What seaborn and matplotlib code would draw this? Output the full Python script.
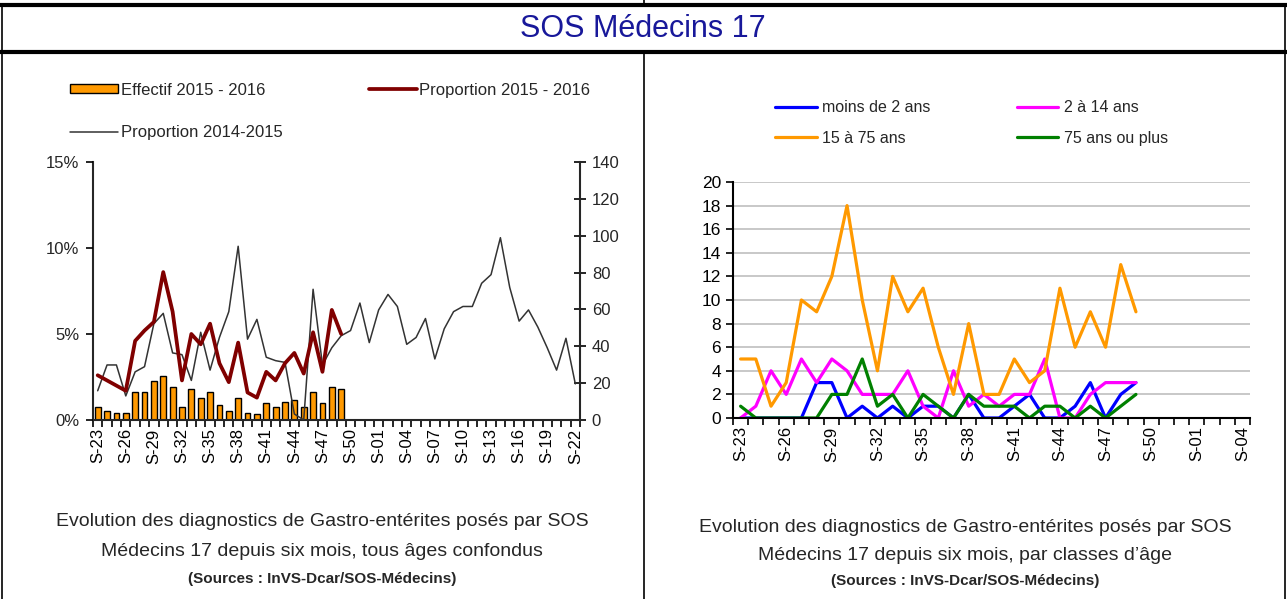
import numpy as np
import pandas as pd
import seaborn as sns
import matplotlib.pyplot as plt
from matplotlib.lines import Line2D
from matplotlib.patches import Patch
from matplotlib.ticker import PercentFormatter

# weeks shown on the left chart (one season)
weeks_left = [
    "S-23", "S-24", "S-25", "S-26", "S-27", "S-28", "S-29", "S-30", "S-31", "S-32",
    "S-33", "S-34", "S-35", "S-36", "S-37", "S-38", "S-39", "S-40", "S-41", "S-42",
    "S-43", "S-44", "S-45", "S-46", "S-47", "S-48", "S-49", "S-50", "S-51", "S-52",
    "S-01", "S-02", "S-03", "S-04", "S-05", "S-06", "S-07", "S-08", "S-09", "S-10",
    "S-11", "S-12", "S-13", "S-14", "S-15", "S-16", "S-17", "S-18", "S-19", "S-20",
    "S-21", "S-22",
]
# weeks shown on the right chart
weeks_right = weeks_left[:34]

effectif_1516 = [7, 5, 4, 4, 15, 15, 21, 24, 18, 7, 17, 12, 15, 8, 5, 12, 4, 3, 9, 7,
                 10, 11, 7, 15, 9, 18, 17]
prop_1516 = [2.6, 2.3, 2.0, 1.7, 4.6, 5.2, 5.7, 8.6, 6.3, 2.3, 5.0, 4.4, 5.6, 3.3, 2.2,
             4.5, 1.6, 1.3, 2.8, 2.3, 3.3, 3.9, 2.7, 5.1, 2.8, 6.4, 5.0]
prop_1415 = [1.7, 3.2, 3.2, 1.4, 2.8, 3.1, 5.6, 6.2, 3.9, 3.8, 2.3, 5.1, 2.9, 4.8, 6.3,
             10.1, 4.7, 5.85, 3.65, 3.45, 3.35, 0.35, 0.0, 7.6, 3.2, 4.2, 4.9, 5.2, 6.8,
             4.5, 6.4, 7.3, 6.6, 4.4, 4.8, 5.9, 3.55, 5.3, 6.3, 6.6, 6.6, 7.95, 8.45,
             10.6, 7.7, 5.75, 6.4, 5.4, 4.2, 2.9, 4.75, 2.1]

age_moins2 = [0, 0, 0, 0, 0, 3, 3, 0, 1, 0, 1, 0, 1, 1, 0, 2, 0, 0, 1, 2, 0, 0, 1, 3, 0, 2, 3]
age_2_14 = [0, 1, 4, 2, 5, 3, 5, 4, 2, 2, 2, 4, 1, 0, 4, 1, 2, 1, 2, 2, 5, 0, 0, 2, 3, 3, 3]
age_15_75 = [5, 5, 1, 3, 10, 9, 12, 18, 10, 4, 12, 9, 11, 6, 2, 8, 2, 2, 5, 3, 4, 11, 6, 9, 6, 13, 9]
age_75plus = [1, 0, 0, 0, 0, 0, 2, 2, 5, 1, 2, 0, 2, 1, 0, 2, 1, 1, 1, 0, 1, 1, 0, 1, 0, 1, 2]

age_labels = ["moins de 2 ans", "2 à 14 ans", "15 à 75 ans", "75 ans ou plus"]
age_colors = ["#0000FF", "#FF00FF", "#FF9900", "#008000"]

W, H = 1287, 599

sns.set_theme(style="white")
plt.rcParams["font.family"] = ["Liberation Sans", "DejaVu Sans"]
plt.rcParams["axes.linewidth"] = 1.5

fig = plt.figure(figsize=(W / 100, H / 100), dpi=100)


def box(x0, y0, x1, y1):
    # pixel box (top-left origin) -> figure fraction rect
    return [x0 / W, 1 - y1 / H, (x1 - x0) / W, (y1 - y0) / H]


def hline(y, x0, x1, lw):
    fig.add_artist(Line2D([x0 / W, x1 / W], [1 - y / H, 1 - y / H], color="black", lw=lw))


def vline(x, y0, y1, lw):
    fig.add_artist(Line2D([x / W, x / W], [1 - y0 / H, 1 - y1 / H], color="black", lw=lw))


# table frame
hline(5, 0, W, 3)
hline(52, 0, W, 3)
vline(1.5, 5, H, 1.2)
vline(1285, 5, H, 1.2)
vline(644, 0, 5, 1.2)
vline(644, 52, H, 1.2)

fig.text(643 / W, 1 - 29 / H, "SOS Médecins 17", ha="center", va="center",
         fontsize=22, color="#18189A")

# ---------------- left chart ----------------
ax_bar = fig.add_axes(box(93, 162, 580, 420))
df_bar = pd.DataFrame({"semaine": weeks_left[:len(effectif_1516)], "effectif": effectif_1516})
sns.barplot(data=df_bar, x="semaine", y="effectif", order=weeks_left, color="#FF9900",
            saturation=1, edgecolor="black", linewidth=1, width=0.62, ax=ax_bar)
ax_bar.set_xlabel("")
ax_bar.set_ylabel("")

ax_pct = ax_bar.twinx()
sns.lineplot(x=np.arange(len(prop_1415)), y=prop_1415, color="#333333", lw=1.1, ax=ax_pct)
sns.lineplot(x=np.arange(len(prop_1516)), y=prop_1516, color="#800000", lw=2.7, ax=ax_pct)
ax_pct.set_ylim(0, 15)
ax_pct.set_yticks([0, 5, 10, 15])
ax_pct.yaxis.set_major_formatter(PercentFormatter(decimals=0))
ax_pct.set_ylabel("")

# counts on the right side, percentages on the left side
ax_bar.set_ylim(0, 140)
ax_bar.set_yticks(range(0, 141, 20))
ax_bar.yaxis.tick_right()
ax_pct.yaxis.tick_left()

for a in (ax_bar, ax_pct):
    a.set_xlim(-0.5, len(weeks_left) - 0.5)
    for s in a.spines.values():
        s.set_visible(False)
ax_bar.spines["bottom"].set_visible(True)
ax_bar.spines["left"].set_visible(True)
ax_bar.spines["right"].set_visible(True)

ax_bar.set_xticks(range(0, len(weeks_left), 3))
ax_bar.set_xticklabels(weeks_left[::3], rotation=90, fontsize=12)
ax_bar.set_xticks(np.arange(-0.5, len(weeks_left), 1), minor=True)
ax_bar.tick_params(axis="x", which="major", length=0, pad=6, colors="black")
ax_bar.tick_params(axis="x", which="minor", bottom=True, length=5, width=1.2, direction="out", color="black")
ax_bar.tick_params(axis="y", which="major", right=True, left=False, labelright=True, labelleft=False,
                   direction="inout", length=9, width=1.2, labelsize=12, color="black", pad=4)
ax_pct.tick_params(axis="y", left=True, right=False, labelleft=True, labelright=False,
                   direction="out", length=5, width=1.2, labelsize=12, color="black", pad=5)
ax_pct.tick_params(axis="x", bottom=False, labelbottom=False)

left_handles = [
    Patch(facecolor="#FF9900", edgecolor="black", lw=1),
    Line2D([], [], color="#800000", lw=2.7),
    Line2D([], [], color="#333333", lw=1.1),
]
fig.legend(left_handles[:2], ["Effectif 2015 - 2016", "Proportion 2015 - 2016"],
           loc="center left", bbox_to_anchor=(70 / W, 1 - 90 / H), ncol=2, frameon=False,
           fontsize=12, handlelength=2.9, handleheight=0.5, handletextpad=0.15,
           columnspacing=6.2, borderaxespad=0, borderpad=0)
fig.legend(left_handles[2:], ["Proportion 2014-2015"],
           loc="center left", bbox_to_anchor=(70 / W, 1 - 133 / H), frameon=False,
           fontsize=12, handlelength=2.9, handletextpad=0.15, borderaxespad=0, borderpad=0)

# ---------------- right chart ----------------
ax_age = fig.add_axes(box(733, 182, 1250, 418))
rows = []
for label, values in zip(age_labels, [age_moins2, age_2_14, age_15_75, age_75plus]):
    for i, v in enumerate(values):
        rows.append({"pos": i, "classe": label, "n": v})
df_age = pd.DataFrame(rows)
sns.lineplot(data=df_age, x="pos", y="n", hue="classe", hue_order=age_labels,
             palette=age_colors, lw=2.3, legend=False, ax=ax_age)
ax_age.set_xlim(-0.5, len(weeks_right) - 0.5)
ax_age.set_ylim(0, 20)
ax_age.set_yticks(range(0, 21, 2))
ax_age.yaxis.grid(True, color="#BFBFBF", lw=1.2)
ax_age.set_axisbelow(True)
ax_age.set_xlabel("")
ax_age.set_ylabel("")
ax_age.spines["top"].set_visible(False)
ax_age.spines["right"].set_visible(False)
ax_age.spines["left"].set_color("black")
ax_age.spines["bottom"].set_color("black")
ax_age.set_xticks(range(0, len(weeks_right), 3))
ax_age.set_xticklabels(weeks_right[::3], rotation=90, fontsize=12)
ax_age.set_xticks(np.arange(-0.5, len(weeks_right), 1), minor=True)
ax_age.tick_params(axis="x", which="major", length=0, pad=6, colors="black")
ax_age.tick_params(axis="x", which="minor", bottom=True, length=5, width=1.2, direction="out", color="black")
ax_age.tick_params(axis="y", left=True, direction="out", length=5, width=1.2, labelsize=12.5,
                   color="black", labelcolor="black")

# legend filled column by column: two rows of two entries
age_handles = {lab: Line2D([], [], color=c, lw=2.3) for lab, c in zip(age_labels, age_colors)}
leg_order = [age_labels[0], age_labels[2], age_labels[1], age_labels[3]]
fig.legend([age_handles[l] for l in leg_order], leg_order, loc="center left",
           bbox_to_anchor=(775 / W, 1 - 123 / H), ncol=2, frameon=False, fontsize=11.5,
           handlelength=2.6, handletextpad=0.35, columnspacing=5.4, labelspacing=0.95,
           borderaxespad=0, borderpad=0)

# ---------------- captions ----------------
fig.text(322 / W, 1 - 522 / H, "Evolution des diagnostics de Gastro-entérites posés par SOS",
         ha="center", va="center", fontsize=14)
fig.text(322 / W, 1 - 552 / H, "Médecins 17 depuis six mois, tous âges confondus",
         ha="center", va="center", fontsize=14)
fig.text(322 / W, 1 - 579 / H, "(Sources : InVS-Dcar/SOS-Médecins)",
         ha="center", va="center", fontsize=11, fontweight="bold")
fig.text(965 / W, 1 - 527 / H, "Evolution des diagnostics de Gastro-entérites posés par SOS",
         ha="center", va="center", fontsize=14)
fig.text(965 / W, 1 - 555 / H, "Médecins 17 depuis six mois, par classes d’âge",
         ha="center", va="center", fontsize=14)
fig.text(965 / W, 1 - 581 / H, "(Sources : InVS-Dcar/SOS-Médecins)",
         ha="center", va="center", fontsize=11, fontweight="bold")

fig.savefig("out.png", dpi=100)
